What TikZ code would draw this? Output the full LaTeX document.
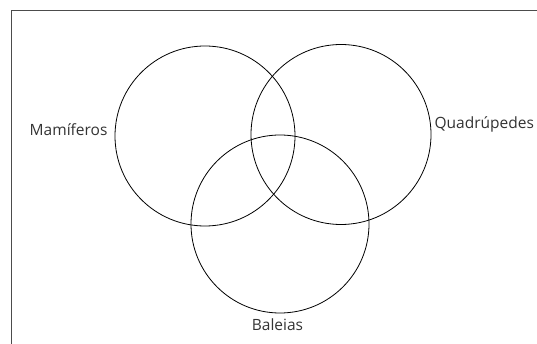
\documentclass[tikz,border=0pt]{standalone}
\usepackage{fontspec}
\setmainfont{Open Sans}
\usetikzlibrary{positioning}

\begin{document}
\begin{tikzpicture}[
    x=1pt, y=-1pt,
    vennset/.style={draw, circle, line width=0.8pt, inner sep=0pt, minimum size=180pt},
    setlabel/.style={inner sep=0pt, text=black!80, font=\fontsize{15.5}{18}\selectfont}
  ]
    \useasboundingbox (0,0) rectangle (537,344);
    \draw[line width=1pt, black!70] (11.5,344) |- (537,10.5);
    \node[vennset] (mamiferos) at (205,136) {};
    \node[vennset] (quadrupedes) at (341,134.5) {};
    \node[vennset, minimum size=178pt] (baleias) at (280,224) {};
    \node[setlabel, anchor=base east] (lblmam) at ([xshift=-7pt]mamiferos.west) {Mamíferos};
    \node[setlabel, anchor=base west] (lblquad) at ([xshift=3pt, yshift=5.5pt]quadrupedes.east) {Quadrúpedes};
    \node[setlabel, below=5pt of baleias.south, xshift=-2.5pt] (lblbal) {Baleias};
  \end{tikzpicture}
\end{document}
